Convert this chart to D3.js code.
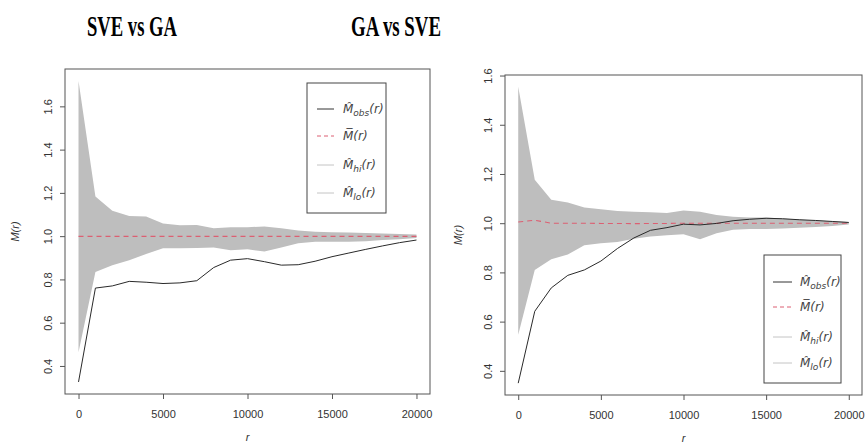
<!DOCTYPE html>
<html>
<head>
<meta charset="utf-8">
<script src="https://cdn.jsdelivr.net/npm/d3@7/dist/d3.min.js"></script>
<style>
  body { margin: 0; background: #fff; }
  text { font-family: "Liberation Sans", Arial, sans-serif; }
</style>
</head>
<body>
<svg width="866" height="446"></svg>
<script>
// distances r
let rValues = [0, 1000, 2000, 3000, 4000, 5000, 6000, 7000, 8000, 9000, 10000,
  11000, 12000, 13000, 14000, 15000, 16000, 17000, 18000, 19000, 20000];

// SVE vs GA
let obsA = [0.326, 0.760, 0.770, 0.791, 0.787, 0.781, 0.784, 0.794, 0.855, 0.889, 0.896,
  0.882, 0.866, 0.868, 0.884, 0.905, 0.922, 0.939, 0.955, 0.970, 0.982];
let meanA = [0.999, 0.999, 0.999, 0.999, 0.999, 0.999, 0.999, 0.999, 0.999, 0.999, 0.999,
  0.999, 0.999, 0.999, 0.999, 0.999, 0.999, 0.999, 0.999, 0.999, 0.999];
let hiA = [1.717, 1.183, 1.117, 1.093, 1.091, 1.058, 1.050, 1.051, 1.037, 1.041, 1.041,
  1.045, 1.036, 1.026, 1.020, 1.018, 1.017, 1.015, 1.012, 1.010, 1.008];
let loA = [0.463, 0.834, 0.866, 0.889, 0.917, 0.944, 0.944, 0.945, 0.947, 0.935, 0.939,
  0.929, 0.947, 0.967, 0.974, 0.974, 0.974, 0.976, 0.982, 0.986, 0.991];

// GA vs SVE
let obsB = [0.350, 0.642, 0.737, 0.788, 0.810, 0.846, 0.897, 0.940, 0.971, 0.982, 0.996,
  0.993, 0.999, 1.010, 1.016, 1.020, 1.018, 1.014, 1.011, 1.007, 1.003];
let meanB = [1.005, 1.012, 1.000, 1.000, 1.000, 0.999, 0.999, 0.998, 0.999, 0.999, 1.000,
  1.000, 1.000, 1.000, 1.000, 1.000, 1.000, 1.000, 1.000, 1.000, 1.000];
let hiB = [1.554, 1.177, 1.095, 1.084, 1.064, 1.057, 1.050, 1.046, 1.044, 1.041, 1.052,
  1.046, 1.033, 1.026, 1.023, 1.023, 1.019, 1.015, 1.011, 1.008, 1.005];
let loB = [0.547, 0.810, 0.853, 0.873, 0.910, 0.918, 0.924, 0.937, 0.946, 0.951, 0.955,
  0.935, 0.959, 0.973, 0.976, 0.976, 0.978, 0.981, 0.985, 0.989, 0.995];

let xTicks = [0, 5000, 10000, 15000, 20000];
let yTicks = [0.4, 0.6, 0.8, 1.0, 1.2, 1.4, 1.6];

let titles = ["SVE vs GA", "GA vs SVE"];

let svg = d3.select("svg");

// R style range: data extent plus 4% either side
function padExtent(vals) {
  let ext = d3.extent(vals);
  let d = (ext[1] - ext[0]) * 0.04;
  return [ext[0] - d, ext[1] + d];
}

function legendLabel(t, sub, bar) {
  t.append("tspan").text(bar ? "M\u0305" : "M\u0302");
  if (sub) {
    t.append("tspan").attr("font-size", 9).attr("dy", 3).text(sub);
    t.append("tspan").attr("dy", -3).text("(r)");
  } else {
    t.append("tspan").text("(r)");
  }
}

function drawPanel(p) {
  let g = svg.append("g");

  let x = d3.scaleLinear()
    .domain(padExtent(rValues))
    .range([p.left, p.right]);
  let y = d3.scaleLinear()
    .domain(padExtent(p.hi.concat(p.lo, p.obs)))
    .range([p.bottom, p.top]);

  let rows = rValues.map((r, i) => ({r: r, obs: p.obs[i], mean: p.mean[i], hi: p.hi[i], lo: p.lo[i]}));

  // envelope
  g.append("path")
    .datum(rows)
    .attr("fill", "#bebebe")
    .attr("d", d3.area().x(d => x(d.r)).y0(d => y(d.lo)).y1(d => y(d.hi)));

  // theoretical mean
  g.append("path")
    .datum(rows)
    .attr("fill", "none")
    .attr("stroke", "#dc5f72")
    .attr("stroke-width", 1.1)
    .attr("stroke-dasharray", "5,4")
    .attr("d", d3.line().x(d => x(d.r)).y(d => y(d.mean)));

  // observed
  g.append("path")
    .datum(rows)
    .attr("fill", "none")
    .attr("stroke", "#2a2a2a")
    .attr("stroke-width", 1)
    .attr("d", d3.line().x(d => x(d.r)).y(d => y(d.obs)));

  // plot box
  g.append("rect")
    .attr("x", p.left).attr("y", p.top)
    .attr("width", p.right - p.left).attr("height", p.bottom - p.top)
    .attr("fill", "none").attr("stroke", "#555").attr("stroke-width", 1);

  // x axis
  let xa = g.append("g")
    .attr("transform", "translate(0," + p.bottom + ")")
    .call(d3.axisBottom(x).tickValues(xTicks).tickFormat(d3.format("d")).tickSize(5).tickPadding(11));
  xa.select(".domain").remove();
  xa.selectAll("line").attr("stroke", "#555");
  xa.selectAll("text").attr("font-size", 11).attr("fill", "#333")
    .style("font-family", "Liberation Sans, Arial, sans-serif");

  // y axis, labels turned like R las=0
  let ya = g.append("g")
    .attr("transform", "translate(" + p.left + ",0)")
    .call(d3.axisLeft(y).tickValues(yTicks).tickFormat(d3.format(".1f")).tickSize(5));
  ya.select(".domain").remove();
  ya.selectAll("line").attr("stroke", "#555");
  ya.selectAll("text")
    .attr("transform", "rotate(-90)")
    .attr("x", 0).attr("y", -17).attr("dy", "0.35em")
    .attr("text-anchor", "middle")
    .attr("font-size", 11).attr("fill", "#333")
    .style("font-family", "Liberation Sans, Arial, sans-serif");

  // axis titles
  g.append("text")
    .attr("x", (p.left + p.right) / 2).attr("y", p.bottom + 47)
    .attr("text-anchor", "middle")
    .attr("font-size", 11).attr("font-style", "italic").attr("fill", "#333")
    .text("r");
  g.append("text")
    .attr("transform", "translate(" + p.yLabX + "," + ((p.top + p.bottom) / 2) + ") rotate(-90)")
    .attr("text-anchor", "middle").attr("dy", "0.35em")
    .attr("font-size", 11).attr("font-style", "italic").attr("fill", "#333")
    .text("M(r)");

  // panel title
  svg.append("text")
    .attr("x", p.titleX).attr("y", 36)
    .attr("text-anchor", "middle")
    .attr("textLength", 90).attr("lengthAdjust", "spacingAndGlyphs")
    .style("font-family", "Liberation Serif, Times New Roman, serif")
    .attr("font-weight", "bold").attr("font-size", 30)
    .text(p.title);

  // legend
  let lg = g.append("g").attr("transform", "translate(" + p.legX + "," + p.legY + ")");
  lg.append("rect")
    .attr("width", p.legW).attr("height", p.legH)
    .attr("fill", "#fff").attr("stroke", "#444");
  let items = [
    {sub: "obs", bar: false, stroke: "#333", dash: null},
    {sub: null, bar: true, stroke: "#dc5f72", dash: "4,3"},
    {sub: "hi", bar: false, stroke: "#c4c4c4", dash: null},
    {sub: "lo", bar: false, stroke: "#c4c4c4", dash: null}
  ];
  items.forEach((it, i) => {
    let yy = p.legRows[i];
    lg.append("line")
      .attr("x1", p.legLine[0]).attr("x2", p.legLine[1])
      .attr("y1", yy).attr("y2", yy)
      .attr("stroke", it.stroke).attr("stroke-width", 1)
      .attr("stroke-dasharray", it.dash);
    let t = lg.append("text")
      .attr("x", p.legText).attr("y", yy).attr("dy", "0.35em")
      .attr("font-size", 12).attr("font-style", "italic").attr("fill", "#444")
      .style("font-family", "DejaVu Sans, sans-serif");
    legendLabel(t, it.sub, it.bar);
  });
}

drawPanel({
  title: titles[0], titleX: 132,
  left: 65, right: 430, top: 69, bottom: 394, yLabX: 15,
  obs: obsA, mean: meanA, hi: hiA, lo: loA,
  legX: 307, legY: 83, legW: 79, legH: 130,
  legRows: [26, 53, 82, 110], legLine: [10, 27], legText: 36
});

drawPanel({
  title: titles[1], titleX: 396,
  left: 505, right: 862, top: 75, bottom: 395, yLabX: 458,
  obs: obsB, mean: meanB, hi: hiB, lo: loB,
  legX: 764, legY: 255, legW: 77, legH: 128,
  legRows: [27, 52, 82, 108], legLine: [9, 28], legText: 36
});
</script>
</body>
</html>
